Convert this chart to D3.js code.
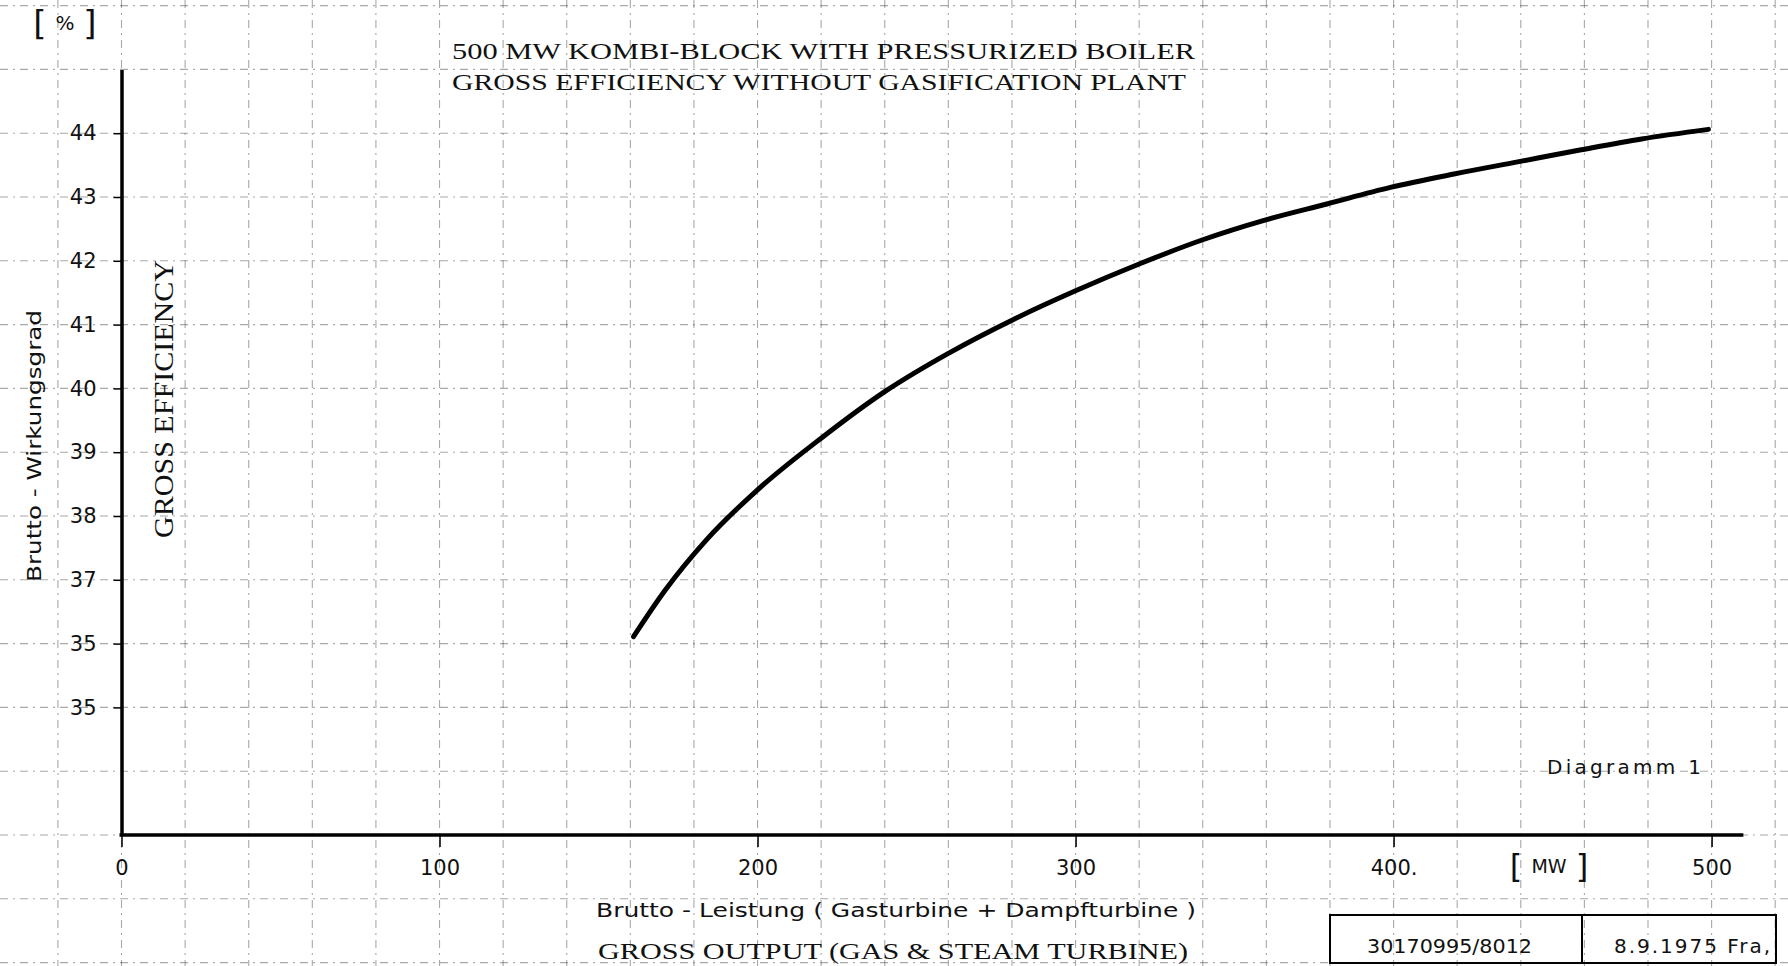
<!DOCTYPE html>
<meta charset="utf-8">
<style>
body { margin: 0; background: #fff; }
svg { display: block; }
.grid line { stroke: #555; stroke-width: 1.1; stroke-dasharray: 8 5 2 5; opacity: 0.5; }
.sans { font-family: "DejaVu Sans", sans-serif; fill: #111; }
.serif { font-family: "Liberation Serif", "DejaVu Serif", serif; fill: #111; }
.axis .domain { stroke: #000; stroke-width: 3.5; }
.axis .tick line { stroke: #000; stroke-width: 1.5; }
.axis text { font-family: "DejaVu Sans", sans-serif; font-size: 20px; fill: #111; }
</style>
<body>
<script src="https://d3js.org/d3.v7.min.js"></script>
<script>

// data
var outputMW = [161, 171, 184, 200, 220, 240, 260, 280, 300, 320, 340, 359, 379, 399, 419, 439, 459, 478, 499];
var efficiencyPct = [36.11, 36.84, 37.63, 38.41, 39.22, 39.95, 40.55, 41.07, 41.53, 41.95,
                     42.33, 42.63, 42.89, 43.15, 43.36, 43.55, 43.74, 43.91, 44.06];

var yTickValues = [44, 43, 42, 41, 40, 39, 38, 37, 36, 35];
var yTickLabels = ["44", "43", "42", "41", "40", "39", "38", "37", "35", "35"];  // as printed
var xTickValues = [0, 100, 200, 300, 400, 500];
var xTickLabels = ["0", "100", "200", "300", "400.", "500"];

var width = 1788, height = 966;

// scales
var x = d3.scaleLinear().domain([0, 500]).range([121.5, 1711.6]);
var y = d3.scaleLinear().domain([33, 45]).range([835, 69.4]);

var svg = d3.select("body").append("svg")
    .attr("width", width)
    .attr("height", height);

// dash-dot grid, runs over the whole sheet
var grid = svg.append("g").attr("class", "grid");
grid.selectAll(".v")
    .data(d3.range(-20, 521, 20))
  .enter().append("line")
    .attr("x1", function(d) { return x(d); })
    .attr("x2", function(d) { return x(d); })
    .attr("y1", 0)
    .attr("y2", height);
grid.selectAll(".h")
    .data(d3.range(31, 47))
  .enter().append("line")
    .attr("x1", 0)
    .attr("x2", width)
    .attr("y1", function(d) { return y(d); })
    .attr("y2", function(d) { return y(d); });

// axes
var yAxis = svg.append("g")
    .attr("class", "axis")
    .attr("transform", "translate(" + x(0) + ",0)")
    .call(d3.axisLeft(y)
        .tickValues(yTickValues)
        .tickFormat(function(d, i) { return yTickLabels[i]; })
        .tickSize(8)
        .tickSizeOuter(0)
        .tickPadding(17));
yAxis.selectAll("text").style("font-size", "21px");

var xAxis = svg.append("g")
    .attr("class", "axis")
    .attr("transform", "translate(0," + y(33) + ")")
    .call(d3.axisBottom(x)
        .tickValues(xTickValues)
        .tickFormat(function(d, i) { return xTickLabels[i]; })
        .tickSize(12)
        .tickSizeOuter(0)
        .tickPadding(13));
xAxis.select(".domain").remove();
xAxis.selectAll("text").style("font-size", "21px");
xAxis.append("line")
    .attr("x1", x(0) - 2)
    .attr("x2", x(510))
    .attr("stroke", "#000")
    .attr("stroke-width", 3.5);

// the efficiency curve
var line = d3.line()
    .x(function(d) { return x(d[0]); })
    .y(function(d) { return y(d[1]); })
    .curve(d3.curveMonotoneX);

svg.append("path")
    .datum(d3.zip(outputMW, efficiencyPct))
    .attr("fill", "none")
    .attr("stroke", "#000")
    .attr("stroke-width", 5)
    .attr("stroke-linecap", "round")
    .attr("d", line);

// title
svg.append("text").attr("class", "serif")
    .attr("x", 452).attr("y", 59)
    .attr("font-size", 24)
    .attr("textLength", 743).attr("lengthAdjust", "spacingAndGlyphs")
    .text("500 MW KOMBI-BLOCK WITH PRESSURIZED BOILER");
svg.append("text").attr("class", "serif")
    .attr("x", 452).attr("y", 90)
    .attr("font-size", 24)
    .attr("textLength", 734).attr("lengthAdjust", "spacingAndGlyphs")
    .text("GROSS EFFICIENCY WITHOUT GASIFICATION PLANT");

// unit labels in square brackets
function bracketLabel(cx, cy, label, size, gap) {
  var g = svg.append("g").attr("class", "sans");
  [-1, 1].forEach(function(s) {
    g.append("text").attr("x", cx + s * gap).attr("y", cy + size * 0.58)
      .attr("text-anchor", "middle").attr("font-size", size * 1.7)
      .text(s < 0 ? "[" : "]");
  });
  g.append("text").attr("x", cx).attr("y", cy + size * 0.36)
    .attr("text-anchor", "middle").attr("font-size", size).text(label);
}
bracketLabel(65, 23, "%", 20, 25);
bracketLabel(1549, 866, "MW", 19, 33);

// y titles
svg.append("text").attr("class", "sans")
    .attr("transform", "translate(41,446) rotate(-90)")
    .attr("text-anchor", "middle")
    .attr("font-size", 20)
    .attr("textLength", 272).attr("lengthAdjust", "spacingAndGlyphs")
    .text("Brutto - Wirkungsgrad");
svg.append("text").attr("class", "serif")
    .attr("transform", "translate(173,399) rotate(-90)")
    .attr("text-anchor", "middle")
    .attr("font-size", 28)
    .attr("textLength", 278).attr("lengthAdjust", "spacingAndGlyphs")
    .text("GROSS EFFICIENCY");

// x titles
svg.append("text").attr("class", "sans")
    .attr("x", 596).attr("y", 917)
    .attr("font-size", 20)
    .attr("textLength", 600).attr("lengthAdjust", "spacingAndGlyphs")
    .text("Brutto - Leistung ( Gasturbine + Dampfturbine )");
svg.append("text").attr("class", "serif")
    .attr("x", 598).attr("y", 959)
    .attr("font-size", 24)
    .attr("textLength", 590).attr("lengthAdjust", "spacingAndGlyphs")
    .text("GROSS OUTPUT (GAS & STEAM TURBINE)");

svg.append("text").attr("class", "sans")
    .attr("x", 1547).attr("y", 774)
    .attr("font-size", 20)
    .attr("textLength", 154).attr("lengthAdjust", "spacing")
    .text("Diagramm 1");

// document stamp box
var stamp = svg.append("g");
stamp.append("rect")
    .attr("x", 1330).attr("y", 915)
    .attr("width", 446).attr("height", 48)
    .attr("fill", "none").attr("stroke", "#000").attr("stroke-width", 2);
stamp.append("line")
    .attr("x1", 1582).attr("x2", 1582).attr("y1", 915).attr("y2", 963)
    .attr("stroke", "#000").attr("stroke-width", 2);
stamp.append("text").attr("class", "sans")
    .attr("x", 1367).attr("y", 953)
    .attr("font-size", 19)
    .attr("textLength", 165).attr("lengthAdjust", "spacingAndGlyphs")
    .text("30170995/8012");
stamp.append("text").attr("class", "sans")
    .attr("x", 1614).attr("y", 953)
    .attr("font-size", 20)
    .attr("textLength", 156).attr("lengthAdjust", "spacing")
    .text("8.9.1975 Fra,");

</script>
</body>
